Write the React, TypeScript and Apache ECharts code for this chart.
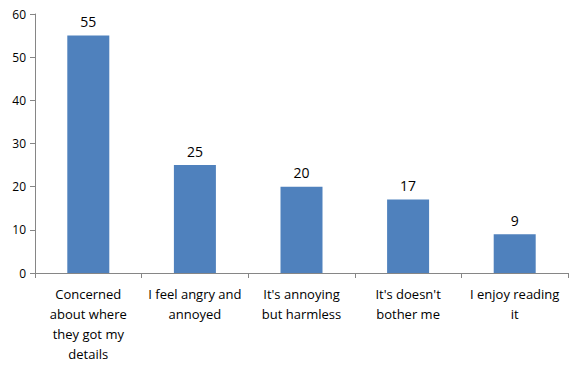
import React, { useEffect, useRef } from "react";
import * as echarts from "echarts";

const categories = [
  "Concerned\nabout where\nthey got my\ndetails",
  "I feel angry and\nannoyed",
  "It's annoying\nbut harmless",
  "It's doesn't\nbother me",
  "I enjoy reading\nit",
];
const values = [55, 25, 20, 17, 9];
const yTicks = { min: 0, max: 60, interval: 10 };

export default function App() {
  const ref = useRef<HTMLDivElement>(null);
  useEffect(() => {
    if (!ref.current) return;
    const chart = echarts.init(ref.current, undefined, { renderer: "svg" });
    const font = "'Open Sans', 'Noto Sans', sans-serif";
    chart.setOption({
      animation: false,
      grid: { left: 35, right: 15, top: 14, bottom: 98, containLabel: false },
      xAxis: {
        type: "category",
        data: categories,
        axisLine: { lineStyle: { color: "#868686", width: 1 } },
        axisTick: { show: true, length: 5, lineStyle: { color: "#868686" } },
        axisLabel: {
          color: "#000",
          fontFamily: font,
          fontSize: 13,
          lineHeight: 20,
          margin: 11,
          interval: 0,
        },
      },
      yAxis: {
        type: "value",
        min: yTicks.min,
        max: yTicks.max,
        interval: yTicks.interval,
        axisLine: { show: true, lineStyle: { color: "#868686", width: 1 } },
        axisTick: { show: true, length: 5, lineStyle: { color: "#868686" } },
        splitLine: { show: false },
        axisLabel: { color: "#000", fontFamily: font, fontSize: 12, margin: 9 },
      },
      series: [
        {
          type: "bar",
          data: values,
          barWidth: 42,
          itemStyle: { color: "#4F81BD" },
          label: {
            show: true,
            position: "top",
            distance: 7,
            color: "#000",
            fontFamily: font,
            fontSize: 14,
          },
        },
      ],
    });
    return () => chart.dispose();
  }, []);
  return <div ref={ref} style={{ width: 583, height: 371, position: "absolute", left: 0, top: 0 }} />;
}
